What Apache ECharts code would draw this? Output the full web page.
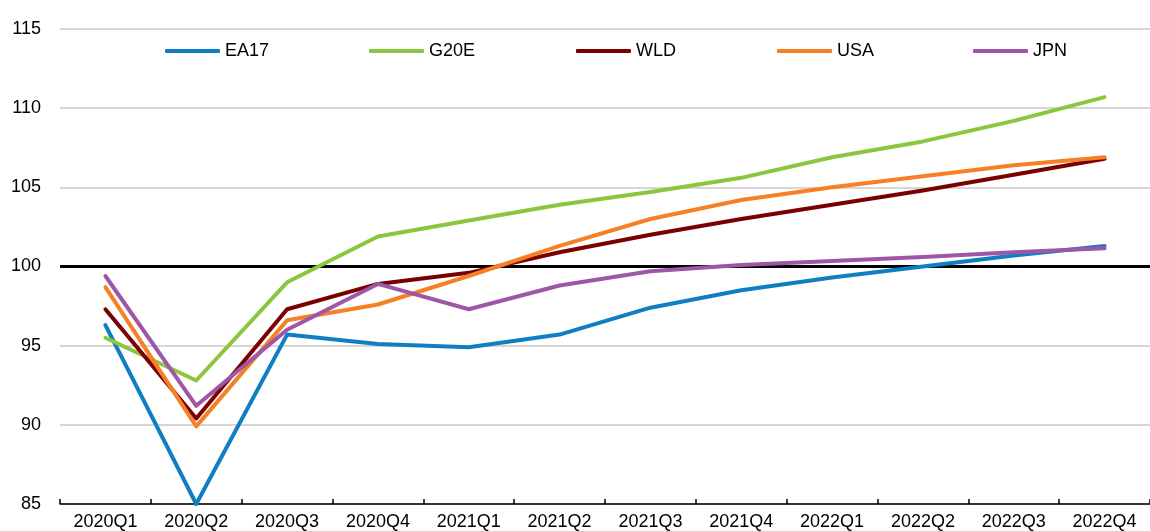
<!DOCTYPE html>
<html>
<head>
<meta charset="utf-8">
<script src="https://cdn.jsdelivr.net/npm/echarts@6/dist/echarts.min.js"></script>
<style>
html,body{margin:0;padding:0;background:#fff;}
#chart{width:1150px;height:531px;}
</style>
</head>
<body>
<div id="chart"></div>
<script>
const categories = ['2020Q1','2020Q2','2020Q3','2020Q4','2021Q1','2021Q2','2021Q3','2021Q4','2022Q1','2022Q2','2022Q3','2022Q4'];
const EA17 = [96.3, 85.0, 95.7, 95.1, 94.9, 95.7, 97.4, 98.5, 99.3, 100.0, 100.7, 101.3];
const G20E = [95.5, 92.8, 99.0, 101.9, 102.9, 103.9, 104.7, 105.6, 106.9, 107.9, 109.2, 110.7];
const WLD  = [97.3, 90.4, 97.3, 98.9, 99.6, 100.9, 102.0, 103.0, 103.9, 104.8, 105.8, 106.8];
const USA  = [98.7, 89.9, 96.6, 97.6, 99.4, 101.3, 103.0, 104.2, 105.0, 105.7, 106.4, 106.9];
const JPN  = [99.4, 91.2, 96.0, 98.9, 97.3, 98.8, 99.7, 100.1, 100.35, 100.6, 100.9, 101.15];
const yTicks = [85, 90, 95, 100, 105, 110, 115];
const referenceLevel = 100;

const FONT = "'Liberation Sans Narrow', 'Arial Narrow', 'Liberation Sans', Arial, sans-serif";
const seriesDefs = [
  {name: 'EA17', data: EA17, color: '#0F7EC3'},
  {name: 'G20E', data: G20E, color: '#8CC63E'},
  {name: 'WLD',  data: WLD,  color: '#7B0000'},
  {name: 'USA',  data: USA,  color: '#F58025'},
  {name: 'JPN',  data: JPN,  color: '#9E57A6'}
];
const legendLefts = [165, 369, 576, 777, 973];

const chart = echarts.init(document.getElementById('chart'), null, {renderer: 'canvas'});
const option = {
  animation: false,
  backgroundColor: '#fff',
  legend: seriesDefs.map((s, i) => ({
    data: [s.name],
    left: legendLefts[i],
    top: 42,
    padding: 0,
    icon: 'roundRect',
    itemWidth: 55,
    itemHeight: 4,
    textStyle: {fontFamily: FONT, fontSize: 18, color: '#000'},
    selectedMode: false
  })),
  grid: {left: 60, top: 29, bottom: 27, width: 1103, containLabel: false},
  xAxis: {
    type: 'category',
    data: categories,
    boundaryGap: true,
    axisLine: {show: true, lineStyle: {color: '#000', width: 1.5}},
    axisTick: {show: true, inside: true, length: 5, interval: 0, lineStyle: {color: '#000', width: 1.5}},
    axisLabel: {fontFamily: FONT, fontSize: 18, color: '#000', margin: 9, interval: 0},
    splitLine: {show: false}
  },
  yAxis: {
    type: 'value',
    min: yTicks[0],
    max: yTicks[yTicks.length - 1],
    interval: 5,
    axisLine: {show: false},
    axisTick: {show: false},
    axisLabel: {fontFamily: FONT, fontSize: 18, color: '#000', margin: 19},
    splitLine: {show: true, lineStyle: {color: '#C8C8C8', width: 1.5}}
  },
  series: seriesDefs.map((s, i) => {
    const ser = {
      name: s.name,
      type: 'line',
      data: s.data,
      showSymbol: false,
      symbol: 'none',
      lineStyle: {color: s.color, width: 4, cap: 'round', join: 'round'},
      itemStyle: {color: s.color},
      z: 3 + i
    };
    if (i === 0) {
      ser.markLine = {
        silent: true,
        symbol: ['none', 'none'],
        label: {show: false},
        lineStyle: {color: '#000', width: 3, type: 'solid'},
        data: [{yAxis: referenceLevel}],
        z: 1
      };
    }
    return ser;
  })
};
chart.setOption(option);
</script>
</body>
</html>
